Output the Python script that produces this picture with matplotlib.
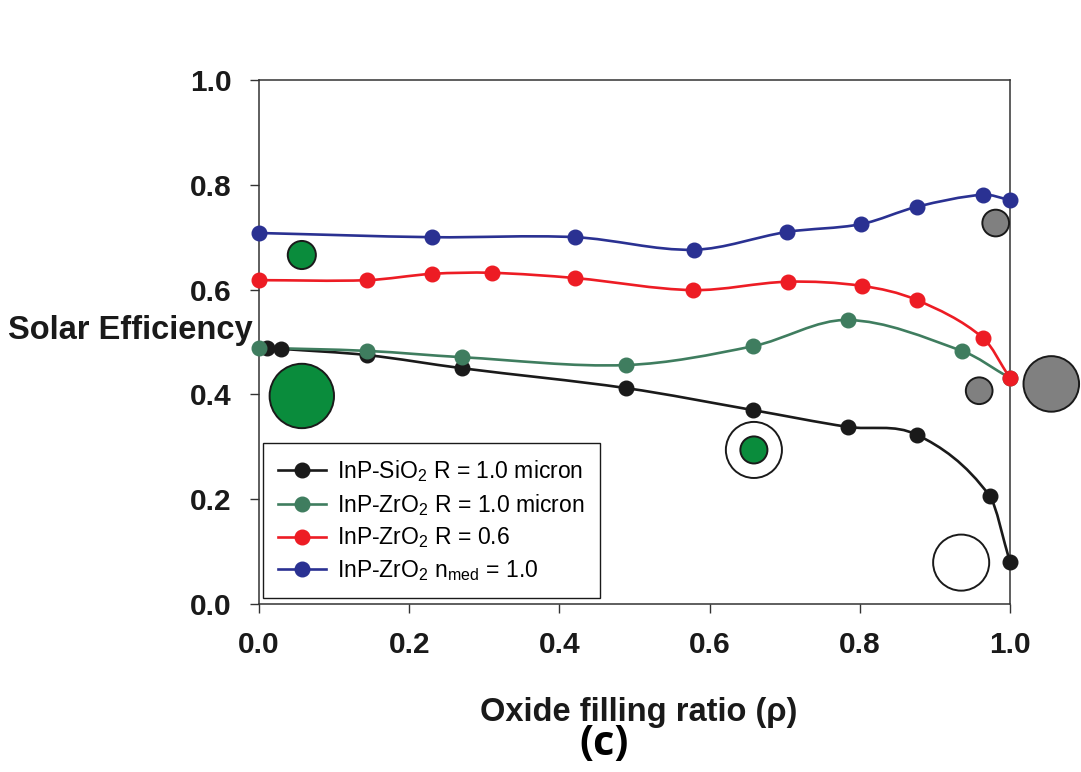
import numpy as np
import matplotlib
matplotlib.use("Agg")
import matplotlib.pyplot as plt
from matplotlib.path import Path
from matplotlib.patches import PathPatch
from matplotlib.lines import Line2D

plt.rcParams['font.family'] = ['Liberation Sans', 'DejaVu Sans']
plt.rcParams['mathtext.fontset'] = 'custom'
plt.rcParams['mathtext.rm'] = 'Liberation Sans'
plt.rcParams['mathtext.it'] = 'Liberation Sans:italic'
plt.rcParams['mathtext.bf'] = 'Liberation Sans:bold'

# ---- data ----
sio2_x = [0.011, 0.029, 0.144, 0.270, 0.489, 0.658, 0.784, 0.876, 0.973, 1.0]
sio2_y = [0.489, 0.487, 0.475, 0.450, 0.412, 0.370, 0.338, 0.323, 0.206, 0.080]

zro2_x = [0.0, 0.144, 0.270, 0.489, 0.658, 0.784, 0.936, 1.0]
zro2_y = [0.489, 0.483, 0.471, 0.456, 0.492, 0.542, 0.483, 0.431]

zro2_r06_x = [0.0, 0.144, 0.230, 0.310, 0.421, 0.578, 0.704, 0.803, 0.876, 0.964, 1.0]
zro2_r06_y = [0.618, 0.618, 0.630, 0.632, 0.622, 0.599, 0.615, 0.607, 0.580, 0.508, 0.431]

zro2_nmed_x = [0.0, 0.230, 0.421, 0.579, 0.703, 0.802, 0.876, 0.964, 1.0]
zro2_nmed_y = [0.708, 0.700, 0.700, 0.676, 0.710, 0.725, 0.758, 0.781, 0.771]

labels = ['InP-SiO$_2$ R = 1.0 micron',
          'InP-ZrO$_2$ R = 1.0 micron',
          'InP-ZrO$_2$ R = 0.6',
          'InP-ZrO$_2$ n$_{\\mathrm{med}}$ = 1.0']

# extra circles (bubbles)
green_bx = [0.057, 0.057, 0.659]
green_by = [0.666, 0.397, 0.294]
green_bs = [410, 2150, 380]
gray_bx = [0.981, 0.959, 1.055]
gray_by = [0.727, 0.407, 0.420]
gray_bs = [370, 370, 1600]
open_bx = [0.659, 0.935]
open_by = [0.294, 0.079]
open_bs = [1630, 1630]


def smooth_path(xs, ys):
    """cubic Hermite -> Bezier path through the points (x increasing)"""
    x = np.asarray(xs, float)
    y = np.asarray(ys, float)
    n = len(x)
    m = np.zeros(n)
    m[0] = (y[1] - y[0]) / (x[1] - x[0])
    m[-1] = (y[-1] - y[-2]) / (x[-1] - x[-2])
    for i in range(1, n - 1):
        m[i] = (y[i + 1] - y[i - 1]) / (x[i + 1] - x[i - 1])
    verts = [(x[0], y[0])]
    codes = [Path.MOVETO]
    for i in range(n - 1):
        h = x[i + 1] - x[i]
        verts += [(x[i] + h / 3, y[i] + m[i] * h / 3),
                  (x[i + 1] - h / 3, y[i + 1] - m[i + 1] * h / 3),
                  (x[i + 1], y[i + 1])]
        codes += [Path.CURVE4] * 3
    return Path(verts, codes)


fig = plt.figure(figsize=(10.81, 7.72), dpi=100)
ax = fig.add_axes([0.2396, 0.2176, 0.6947, 0.6788])

series = [(sio2_x, sio2_y, '#1a1a1a'),
          (zro2_x, zro2_y, '#3f7d5f'),
          (zro2_r06_x, zro2_r06_y, '#ed1c24'),
          (zro2_nmed_x, zro2_nmed_y, '#2a3192')]

handles = []
for k, (xs, ys, col) in enumerate(series):
    ax.add_patch(PathPatch(smooth_path(xs, ys), facecolor='none',
                           edgecolor=col, lw=1.9, zorder=2 + k * 0.1, clip_on=False))
    ax.plot(xs, ys, 'o', color=col, ms=10.5, mec=col, zorder=3 + k * 0.1, clip_on=False)
    handles.append(Line2D([], [], color=col, lw=1.9, marker='o', ms=10.5))

ax.scatter(open_bx, open_by, s=open_bs, facecolor='white', edgecolor='#1a1a1a',
           linewidth=1.4, zorder=4, clip_on=False)
ax.scatter(green_bx, green_by, s=green_bs, facecolor='#0a8c3c', edgecolor='#1a1a1a',
           linewidth=1.4, zorder=5, clip_on=False)
ax.scatter(gray_bx, gray_by, s=gray_bs, facecolor='#808080', edgecolor='#1a1a1a',
           linewidth=1.4, zorder=5, clip_on=False)

ax.set_xlim(0, 1.0)
ax.set_ylim(0, 1.0)
ax.set_xticks(np.arange(0, 1.01, 0.2))
ax.set_yticks(np.arange(0, 1.01, 0.2))
ax.xaxis.set_major_formatter(matplotlib.ticker.FormatStrFormatter('%.1f'))
ax.yaxis.set_major_formatter(matplotlib.ticker.FormatStrFormatter('%.1f'))
ax.tick_params(direction='out', length=6.5, width=1, color='#333333',
               labelsize=21.5, pad=13)
for lab in ax.get_xticklabels() + ax.get_yticklabels():
    lab.set_fontweight('bold')
    lab.set_color('#1a1a1a')
for sp in ax.spines.values():
    sp.set_color('#333333')
    sp.set_linewidth(1.1)

ax.set_xlabel('Oxide filling ratio (\u03c1)', fontsize=23.5, fontweight='bold',
              color='#1a1a1a', va='baseline')
ax.xaxis.set_label_coords(0.505, -0.223)
ax.set_ylabel('Solar Efficiency', fontsize=23.5, fontweight='bold', color='#1a1a1a',
              rotation=0, ha='right', va='center')
ax.yaxis.set_label_coords(-0.009, 0.522)

leg = ax.legend(handles, labels, loc='lower left', bbox_to_anchor=(0.005, 0.011),
                borderaxespad=0, fontsize=16.5, frameon=True, fancybox=False,
                edgecolor='#1a1a1a', framealpha=1, handlelength=2.1,
                handletextpad=0.5, labelspacing=0.35, borderpad=0.65)
leg.get_frame().set_linewidth(1.0)
leg.set_zorder(6)

fig.text(0.559, 0.035, '(c)', fontsize=30, fontweight='bold', family='Open Sans',
         ha='center', va='center', color='black')

fig.savefig('out.png', dpi=100)
